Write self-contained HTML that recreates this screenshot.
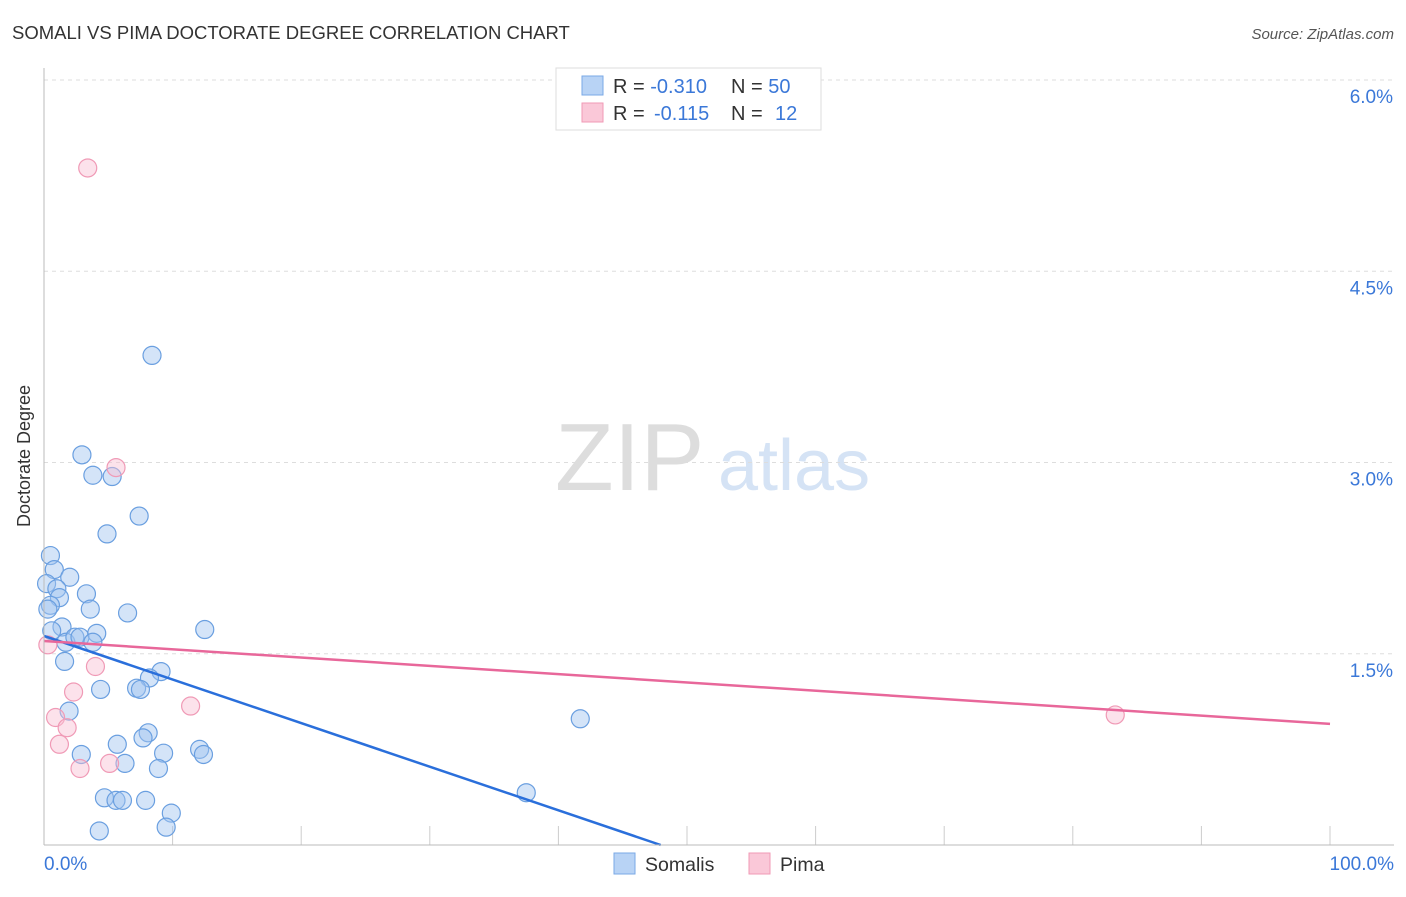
<!DOCTYPE html>
<html><head><meta charset="utf-8"><style>
body{margin:0;background:#fff;font-family:"Liberation Sans",sans-serif;}
svg text{font-family:"Liberation Sans",sans-serif;}
</style></head><body>
<svg id="chart" width="1406" height="892">
<text x="12" y="39" font-size="18.5" fill="#333">SOMALI VS PIMA DOCTORATE DEGREE CORRELATION CHART</text>
<text x="1394" y="39" font-size="15" fill="#555" font-style="italic" text-anchor="end">Source: ZipAtlas.com</text>
<text x="30" y="456" font-size="18" fill="#333" text-anchor="middle" transform="rotate(-90 30 456)">Doctorate Degree</text>
<text x="555" y="490" font-size="96" fill="#ddd" font-family="Liberation Serif">ZIP</text>
<text x="718" y="490" font-size="72" fill="#d5e3f5">atlas</text>
<g id="grid"></g><g id="pts"></g><g id="lines"></g>
<line x1="44" y1="68" x2="44" y2="845" stroke="#bbb"/>
<line x1="44" y1="845" x2="1394" y2="845" stroke="#bbb"/>
<text x="44" y="870" font-size="19" fill="#3b78d8">0.0%</text>
<text x="1394" y="870" font-size="19" fill="#3b78d8" text-anchor="end">100.0%</text>
<g>
<rect x="556" y="68" width="265" height="62" fill="#fff" stroke="#ddd"/>
<rect x="582" y="76" width="21" height="19" fill="#b8d3f5" stroke="#7aa8e6"/>
<rect x="582" y="103" width="21" height="19" fill="#fac8d8" stroke="#f09ab6"/>
<text x="613" y="93" font-size="20" fill="#333">R = <tspan fill="#3b78d8">-0.310</tspan><tspan x="731">N = </tspan><tspan fill="#3b78d8">50</tspan></text>
<text x="613" y="120" font-size="20" fill="#333">R = <tspan fill="#3b78d8" x="654">-0.115</tspan><tspan x="731">N = </tspan><tspan fill="#3b78d8" x="775">12</tspan></text>
</g>
<g>
<rect x="614" y="853" width="21" height="21" fill="#b8d3f5" stroke="#7aa8e6"/>
<text x="645" y="871" font-size="19.5" fill="#333">Somalis</text>
<rect x="749" y="853" width="21" height="21" fill="#fac8d8" stroke="#f09ab6"/>
<text x="780" y="871" font-size="19.5" fill="#333">Pima</text>
</g>
</svg>
<script>
const yTicks=[1.5,3.0,4.5,6.0];
const xTicks=[0,10,20,30,40,50,60,70,80,90,100];
const somaliX=[8.4,2.95,3.8,5.3,7.4,4.9,0.5,0.8,2.0,0.2,1.0,3.3,1.2,0.5,3.6,6.5,12.5,1.4,1.7,2.4,2.8,4.1,3.8,1.6,9.1,8.2,7.2,7.5,4.4,1.95,41.7,8.1,7.7,5.7,2.9,9.3,12.1,12.4,8.9,6.3,4.7,5.6,6.1,7.9,9.9,37.5,4.3,9.5,0.3,0.6];
const somaliY=[3.84,3.06,2.90,2.89,2.58,2.44,2.27,2.16,2.10,2.05,2.01,1.97,1.94,1.88,1.85,1.82,1.69,1.71,1.59,1.63,1.63,1.66,1.59,1.44,1.36,1.31,1.23,1.22,1.22,1.05,0.99,0.88,0.84,0.79,0.71,0.72,0.75,0.71,0.60,0.64,0.37,0.35,0.35,0.35,0.25,0.41,0.11,0.14,1.85,1.68];
const pimaX=[3.4,5.6,0.3,4.0,2.3,11.4,0.9,1.8,1.2,2.8,5.1,83.3];
const pimaY=[5.31,2.96,1.57,1.40,1.20,1.09,1.00,0.92,0.79,0.60,0.64,1.02];
const somaliFit=[1.64,-0.0342];
const pimaFit=[1.60,-0.0065];
const X=v=>44+v*12.86, Y=v=>845-v*127.5;
const ns="http://www.w3.org/2000/svg";
function mk(t,a,p){const e=document.createElementNS(ns,t);for(const k in a)e.setAttribute(k,a[k]);p.appendChild(e);return e;}
const g=document.getElementById('grid');
yTicks.forEach(t=>{
 const l=mk('line',{x1:44,x2:1394,y1:Y(t),y2:Y(t),stroke:'#ddd','stroke-dasharray':'4,4'},g);
 
 
 const tx=mk('text',{x:1393,y:Y(t)+23,'font-size':19,fill:'#3b78d8','text-anchor':'end'},g);
 tx.textContent=t.toFixed(1)+'%';
 
 
});
xTicks.forEach(t=>{
 const l=mk('line',{x1:X(t),x2:X(t),y1:826,y2:845,stroke:'#ccc'},g);
 
 
});
const p=document.getElementById('pts');
somaliX.forEach((v,i)=>{
 const c=mk('circle',{cx:X(v),cy:Y(somaliY[i]),r:9,fill:'rgba(160,196,240,0.45)',stroke:'#6a9fe0','stroke-width':1.2},p);
 
 
});
pimaX.forEach((v,i)=>{
 const c=mk('circle',{cx:X(v),cy:Y(pimaY[i]),r:9,fill:'rgba(248,190,210,0.45)',stroke:'#f09ab6','stroke-width':1.2},p);
 
 
});
const L=document.getElementById('lines');
const xEndS=Math.min(100,-somaliFit[0]/somaliFit[1]);
const ls=mk('line',{x1:X(0),y1:Y(somaliFit[0]),x2:X(xEndS),y2:Y(somaliFit[0]+somaliFit[1]*xEndS),stroke:'#2a6fdb','stroke-width':2.5},L);


const lp=mk('line',{x1:X(0),y1:Y(pimaFit[0]),x2:X(100),y2:Y(pimaFit[0]+pimaFit[1]*100),stroke:'#e8679a','stroke-width':2.5},L);


</script>
</body></html>
